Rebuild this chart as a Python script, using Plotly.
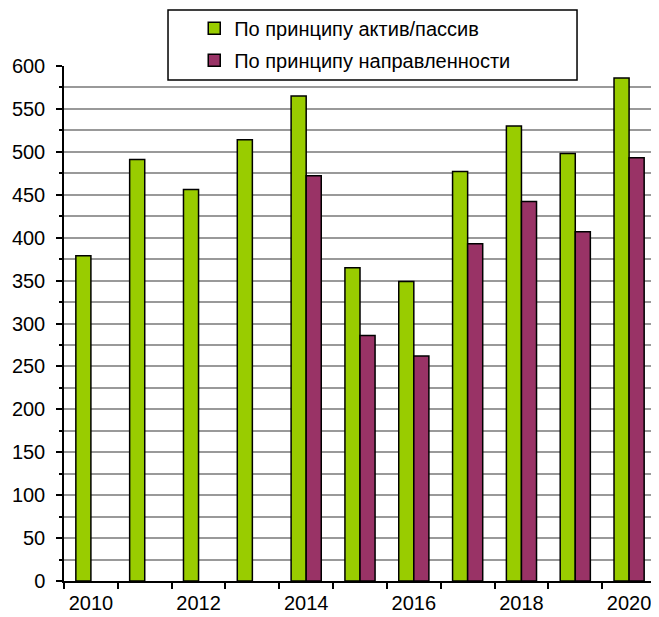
import plotly.graph_objects as go

years = [str(y) for y in range(2010, 2021)]
active_passive = [379, 491, 456, 514, 565, 365, 349, 477, 530, 498, 586]
direction = [None, None, None, None, 472, 286, 262, 393, 442, 407, 493]
tick_text = [y if int(y) % 2 == 0 else "" for y in years]

FONT = "Liberation Sans, Arial, sans-serif"

fig = go.Figure()
fig.add_trace(go.Bar(name="По принципу актив/пассив", x=years, y=active_passive,
                     legendgroup="a",
                     marker_color="#99CC00", marker_line_color="black", marker_line_width=1.5))
fig.add_trace(go.Bar(name="По принципу направленности", x=years, y=direction,
                     legendgroup="b",
                     marker_color="#993366", marker_line_color="black", marker_line_width=1.5))

# page body has an 8px margin, so the figure is sized 8px smaller
fig.update_layout(
    width=651, height=609,
    margin=dict(l=56, r=3, t=58, b=36, autoexpand=False),
    barmode="group", bargap=0.44, bargroupgap=0,
    plot_bgcolor="white", paper_bgcolor="white",
    font=dict(family=FONT, size=20, color="black"),
    legend=dict(x=0.22, y=1.111, xanchor="left", yanchor="top",
                bgcolor="rgba(0,0,0,0)", borderwidth=0,
                font=dict(size=20), tracegroupgap=3),
    shapes=[
        dict(type="line", xref="paper", yref="paper", x0=1, x1=1, y0=0, y1=1,
             line=dict(color="#999999", width=2)),
        dict(type="rect", xref="paper", yref="paper", x0=0.1757, x1=0.8666,
             y0=0.9728, y1=1.1087, fillcolor="white",
             line=dict(color="black", width=1.5), layer="above"),
    ],
)
fig.update_xaxes(
    type="category", tickvals=years, ticktext=tick_text, tickangle=0, automargin=False,
    tickson="boundaries", ticks="outside", ticklen=6, tickcolor="black", tickwidth=1.5,
    ticklabelstandoff=3,
    showline=True, linecolor="black", linewidth=1.5, showgrid=False,
)
fig.update_yaxes(
    range=[0, 600], dtick=50, automargin=False,
    ticks="outside", ticklen=6, tickcolor="black", tickwidth=1.5,
    ticklabelstandoff=7,
    showline=True, linecolor="black", linewidth=1.5,
    showgrid=True, gridcolor="#999999", gridwidth=2, zeroline=False,
    minor=dict(dtick=25, ticks="outside", ticklen=3, tickcolor="black",
               showgrid=True, gridcolor="#999999", gridwidth=2),
)

fig.write_html("out.html")
